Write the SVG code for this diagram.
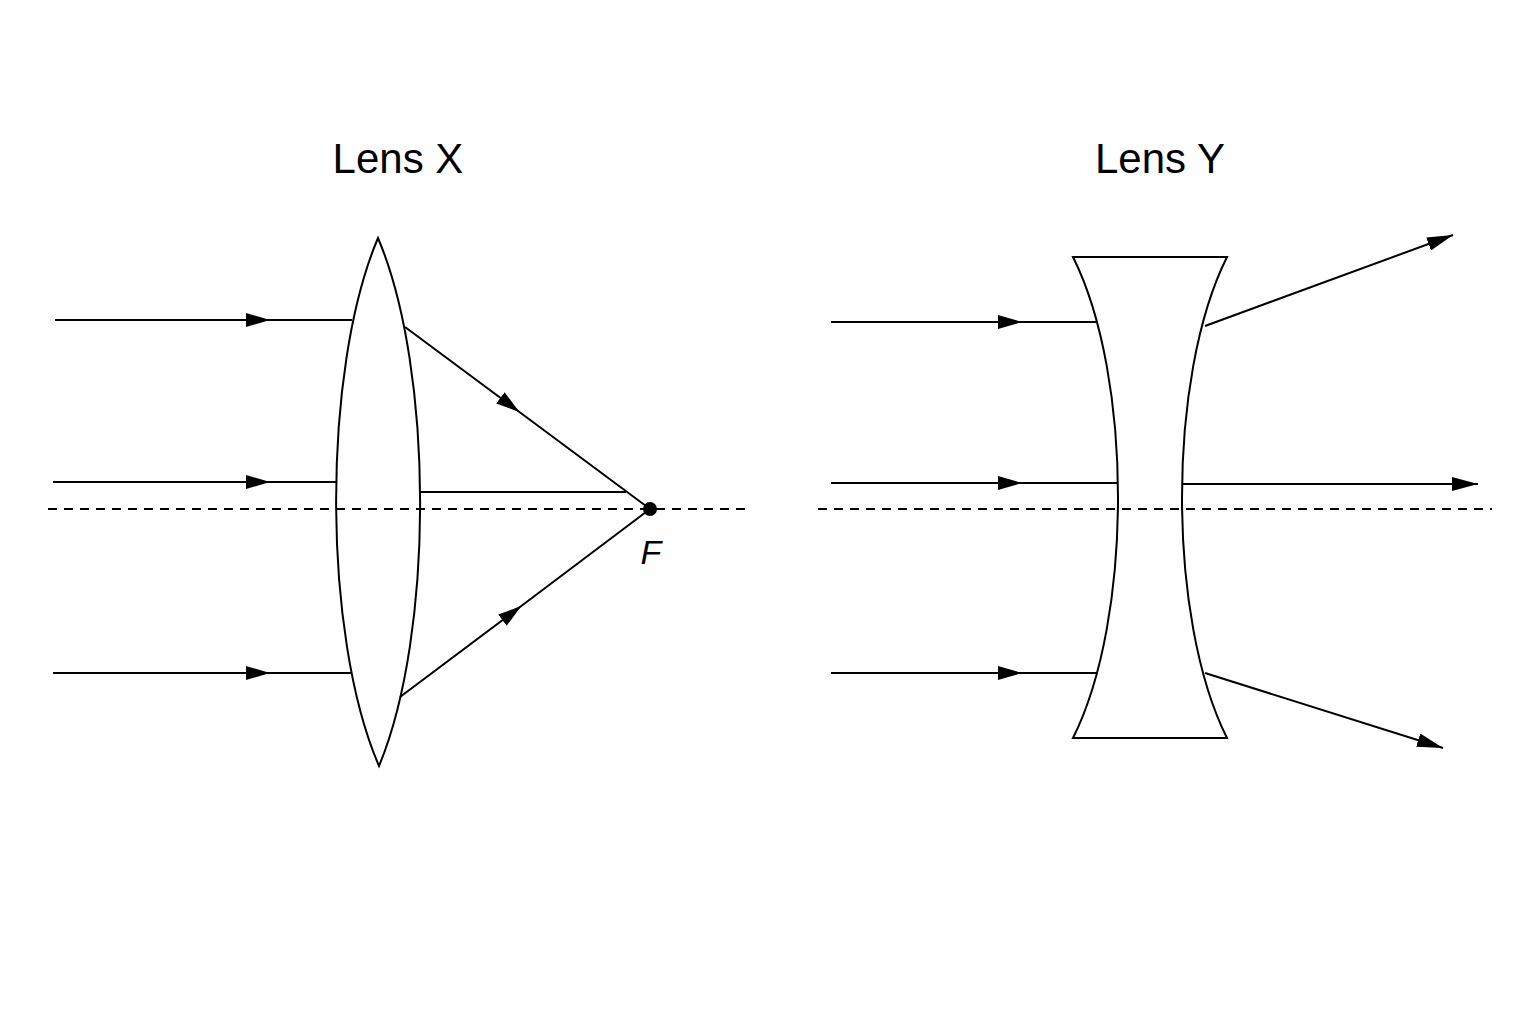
<svg xmlns="http://www.w3.org/2000/svg" width="1536" height="1024" viewBox="0 0 1536 1024">
<style>
.ray{fill:none;stroke:#000;stroke-width:2}
.lens{fill:#fff;stroke:#000;stroke-width:2}
.lbl{font-family:"Liberation Sans",Arial,sans-serif;font-size:42px;text-anchor:middle}
</style>
<defs>
<marker id="ah" viewBox="0 0 24 14" refX="12" refY="7" markerWidth="24" markerHeight="14" markerUnits="userSpaceOnUse" orient="auto"><path d="M0,0 L24,7 L0,14 Z" fill="#000"/></marker>
<marker id="ae" viewBox="0 0 26 14" refX="26" refY="7" markerWidth="26" markerHeight="14" markerUnits="userSpaceOnUse" orient="auto"><path d="M0,0 L26,7 L0,14 Z" fill="#000"/></marker>
</defs>
<rect width="1536" height="1024" fill="#fff"/>
<text class="lbl" x="398" y="173">Lens X</text>
<text class="lbl" x="1160" y="173">Lens Y</text>
<g id="lensX"><path class="lens" d="M378,238 C322,370 322,634 379,766 C434,634 434,370 378,238 Z"/></g>
<g id="lensY"><path class="lens" d="M1073,257 L1227,257 C1167,377 1167,618 1227,738 L1073,738 C1133,618 1133,377 1073,257 Z"/></g>
<g id="axes">
<line x1="48" y1="509" x2="748" y2="509" stroke="#000" stroke-width="2" stroke-dasharray="9,7"/>
<line x1="818" y1="509" x2="1492" y2="509" stroke="#000" stroke-width="2" stroke-dasharray="9,7"/>
</g>
<g id="connectors">
<path class="ray" d="M55,320 L258,320 L352,320" marker-mid="url(#ah)"/>
<path class="ray" d="M53,482 L258,482 L337,482" marker-mid="url(#ah)"/>
<path class="ray" d="M53,673 L258,673 L352,673" marker-mid="url(#ah)"/>
<path class="ray" d="M405,327 L510,405 L650,509" marker-mid="url(#ah)"/>
<path class="ray" d="M420,492 L626,492"/>
<path class="ray" d="M400,697 L512,613 L650,509" marker-mid="url(#ah)"/>
<path class="ray" d="M831,322 L1010,322 L1098,322" marker-mid="url(#ah)"/>
<path class="ray" d="M831,483 L1010,483 L1117,483" marker-mid="url(#ah)"/>
<path class="ray" d="M831,673 L1010,673 L1098,673" marker-mid="url(#ah)"/>
<path class="ray" d="M1205,326 L1453,235" marker-end="url(#ae)"/>
<path class="ray" d="M1183,484 L1478,484" marker-end="url(#ae)"/>
<path class="ray" d="M1205,673 L1443,748" marker-end="url(#ae)"/>
</g>
<g id="focus">
<circle cx="650" cy="509" r="7" fill="#000"/>
<text x="651" y="564" font-family="Liberation Sans,Arial,sans-serif" font-size="34" font-style="italic" text-anchor="middle">F</text>
</g>
</svg>
